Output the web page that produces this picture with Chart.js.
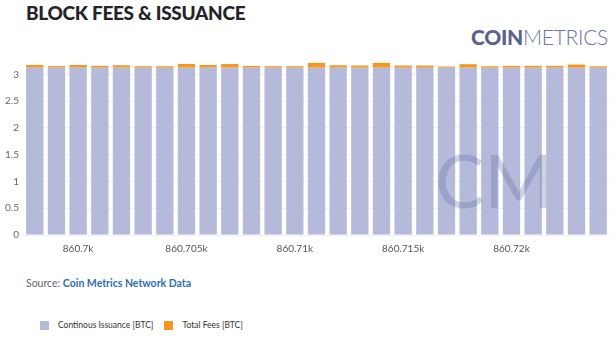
<!DOCTYPE html>
<html>
<head>
<meta charset="utf-8">
<script src="https://cdn.jsdelivr.net/npm/chart.js@4.4.1/dist/chart.umd.min.js"></script>
<style>
  body { margin: 0; width: 616px; height: 338px; background: #fff; font-family: Lato, sans-serif; position: relative; overflow: hidden; }
  #title { position: absolute; left: 26px; top: 1px; font-size: 19px; font-weight: 900; color: #23242a; letter-spacing: -0.3px; }
  #logo { position: absolute; right: 8px; top: 24px; font-size: 21px; color: #5a6290; letter-spacing: -0.3px; }
  #logo b { font-weight: 900; }
  #logo span { font-weight: 300; color: #6e74a0; }
  #wrap { position: absolute; left: 0; top: 50px; width: 616px; height: 205px; }
  #source { position: absolute; left: 26px; top: 277px; font-size: 10.5px; color: #666; }
  #source a { color: #2f6db4; font-weight: 700; text-decoration: none; }
  #legend { position: absolute; left: 40px; top: 320px; font-size: 8.5px; color: #333; display: flex; }
  #legend div { display: flex; align-items: center; margin-right: 11px; }
  #legend i { display: inline-block; width: 9px; height: 9px; margin-right: 9px; }
</style>
</head>
<body>
<div id="title">BLOCK FEES &amp; ISSUANCE</div>
<div id="logo"><b>COIN</b><span>METRICS</span></div>
<div id="wrap"><canvas id="feesChart"></canvas></div>
<div id="source">Source: <a>Coin Metrics Network Data</a></div>
<div id="legend"></div>

<script>
// block heights shown on the x axis
const blocks = [860698, 860699, 860700, 860701, 860702, 860703, 860704, 860705, 860706,
                860707, 860708, 860709, 860710, 860711, 860712, 860713, 860714, 860715,
                860716, 860717, 860718, 860719, 860720, 860721, 860722, 860723, 860724];

// BTC per block
const issuance = [3.125, 3.125, 3.125, 3.125, 3.125, 3.125, 3.125, 3.125, 3.125,
                  3.125, 3.125, 3.125, 3.125, 3.125, 3.125, 3.125, 3.125, 3.125,
                  3.125, 3.125, 3.125, 3.125, 3.125, 3.125, 3.125, 3.125, 3.125];
const fees = [0.05, 0.03, 0.05, 0.035, 0.045, 0.028, 0.028, 0.07, 0.05,
              0.068, 0.032, 0.028, 0.028, 0.09, 0.045, 0.04, 0.09, 0.04,
              0.04, 0.022, 0.065, 0.028, 0.035, 0.035, 0.035, 0.058, 0.026];

const yTicks = [0, 0.5, 1, 1.5, 2, 2.5, 3];

const lavender = '#b5badb';
const orange = '#f7961e';

// faint "CM" mark over the bars
const watermark = {
  id: 'watermark',
  afterDatasetsDraw(chart) {
    const ctx = chart.ctx;
    ctx.save();
    ctx.font = '400 74px Lato';
    ctx.fillStyle = 'rgba(95, 105, 155, 0.3)';
    ctx.textAlign = 'center';
    ctx.textBaseline = 'alphabetic';
    ctx.fillText('CM', 494, 158);
    ctx.restore();
  }
};

const chart = new Chart(document.getElementById('feesChart'), {
  type: 'bar',
  data: {
    labels: blocks,
    datasets: [
      { label: 'Continous Issuance [BTC]', data: issuance, backgroundColor: lavender },
      { label: 'Total Fees [BTC]', data: fees, backgroundColor: orange }
    ]
  },
  options: {
    responsive: true,
    maintainAspectRatio: false,
    animation: false,
    layout: { padding: { top: 9, right: 7, left: 0, bottom: 0 } },
    plugins: { legend: { display: false }, tooltip: { enabled: false } },
    datasets: { bar: { categoryPercentage: 1, barPercentage: 0.8 } },
    scales: {
      x: {
        stacked: true,
        grid: { display: false },
        border: { display: false },
        ticks: {
          autoSkip: false,
          maxRotation: 0,
          color: '#555',
          font: { family: 'Lato', size: 10 },
          padding: 0,
          callback: function(v, i) {
            const b = blocks[i];
            return b % 5 === 0 ? (b / 1000) + 'k' : '';
          }
        }
      },
      y: {
        stacked: true,
        min: 0,
        max: 3.25,
        afterBuildTicks: axis => { axis.ticks = yTicks.map(v => ({ value: v })); },
        grid: { color: '#f0f0f3', drawTicks: false },
        border: { display: false },
        ticks: {
          color: '#666',
          font: { family: 'Lato', size: 10 },
          padding: 5,
          callback: v => String(v)
        }
      }
    }
  },
  plugins: [watermark]
});

// legend under the source line
const legend = document.getElementById('legend');
chart.data.datasets.forEach(ds => {
  const item = document.createElement('div');
  item.innerHTML = `<i style="background:${ds.backgroundColor}"></i>${ds.label}`;
  legend.appendChild(item);
});
</script>
</body>
</html>
